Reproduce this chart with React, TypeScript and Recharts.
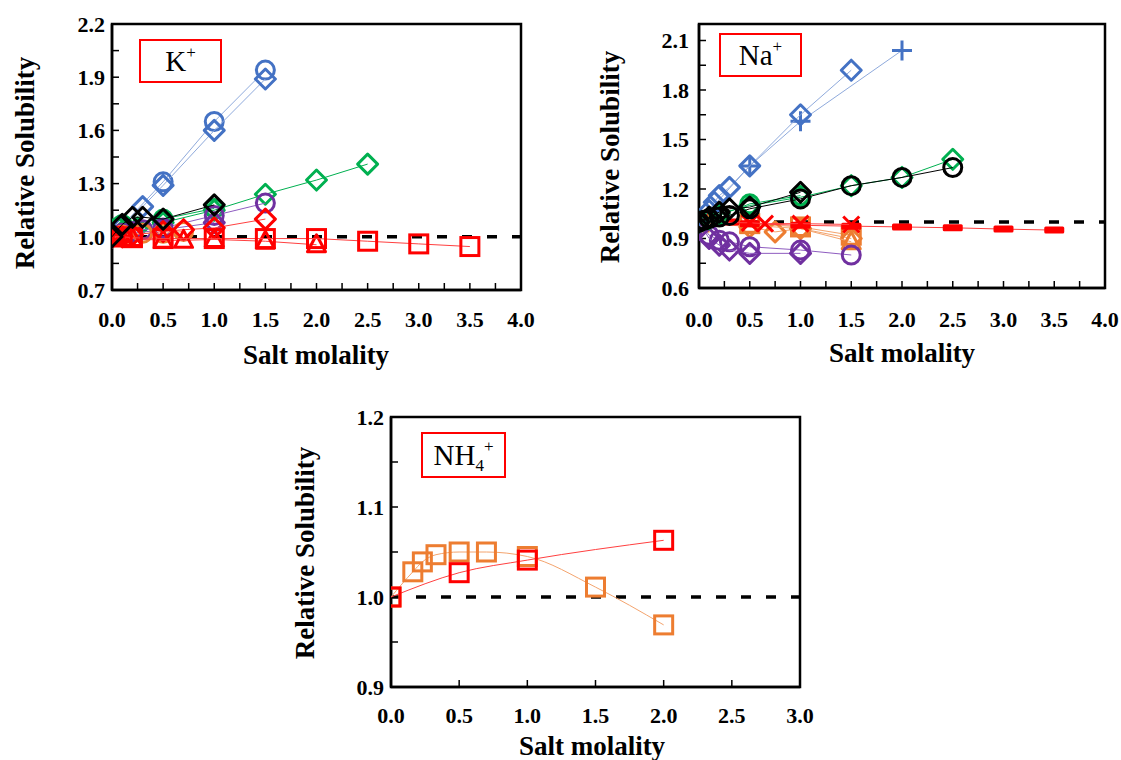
import React from 'react';
import { ScatterChart, Scatter, XAxis, YAxis, ReferenceLine, ReferenceArea } from 'recharts';

const FONT = '"Liberation Serif", "Times New Roman", serif';

// ---------- K+ panel data ----------
const kBlueCircleX = [0, 0.5, 1.0, 1.5];
const kBlueCircleY = [1.0, 1.31, 1.65, 1.94];
const kBlueDiamondX = [0, 0.1, 0.3, 0.5, 1.0, 1.5];
const kBlueDiamondY = [1.0, 1.06, 1.17, 1.29, 1.6, 1.89];
const kGreenCircleX = [0, 0.05, 0.1, 0.5, 1.0];
const kGreenCircleY = [1.0, 1.05, 1.07, 1.1, 1.16];
const kGreenDiamondX = [0, 0.1, 0.25, 0.5, 1.0, 1.5, 2.0, 2.5];
const kGreenDiamondY = [1.0, 1.03, 1.05, 1.08, 1.15, 1.24, 1.32, 1.41];
const kPurpleCircleX = [0, 0.1, 0.2, 0.3, 0.5, 1.0, 1.5];
const kPurpleCircleY = [1.0, 1.02, 1.03, 1.04, 1.05, 1.12, 1.19];
const kPurpleDiamondX = [0, 0.1, 0.2, 0.5, 1.0];
const kPurpleDiamondY = [1.0, 1.01, 1.02, 1.04, 1.08];
const kOrangeCircleX = [0, 0.1, 0.3, 0.5, 0.7];
const kOrangeCircleY = [1.0, 1.01, 1.02, 1.02, 1.03];
const kRedDiamondX = [0, 0.1, 0.2, 0.5, 0.7, 1.0, 1.5];
const kRedDiamondY = [1.0, 1.0, 1.01, 1.03, 1.04, 1.05, 1.1];
const kRedTriangleX = [0, 0.1, 0.2, 0.5, 0.7, 1.0, 1.5, 2.0];
const kRedTriangleY = [1.0, 0.99, 0.99, 0.98, 0.98, 0.985, 0.975, 0.955];
const kRedSquareX = [0, 0.1, 0.2, 0.5, 1.0, 1.5, 2.0, 2.5, 3.0, 3.5];
const kRedSquareY = [1.0, 1.0, 0.995, 0.99, 0.99, 0.99, 0.99, 0.975, 0.96, 0.945];
const kBlackDiamondX = [0, 0.1, 0.2, 0.3, 0.5, 1.0];
const kBlackDiamondY = [1.0, 1.07, 1.11, 1.11, 1.1, 1.18];

// ---------- Na+ panel data ----------
const naOrangeSquareX = [0, 0.5, 1.0, 1.5];
const naOrangeSquareY = [1.0, 0.99, 0.97, 0.92];
const naOrangeDiamondX = [0, 0.5, 0.75, 1.0, 1.5];
const naOrangeDiamondY = [1.0, 0.97, 0.94, 0.96, 0.9];
const naOrangeTriangleX = [0, 0.5, 1.0, 1.5];
const naOrangeTriangleY = [1.0, 0.98, 0.96, 0.88];
const naRedDashX = [0, 0.3, 0.5, 1.0, 1.5, 2.0, 2.5, 3.0, 3.5];
const naRedDashY = [1.0, 1.0, 0.99, 0.98, 0.975, 0.97, 0.965, 0.957, 0.951];
const naRedCrossX = [0, 0.5, 0.65, 1.0, 1.5];
const naRedCrossY = [1.0, 0.995, 0.99, 0.99, 0.985];
const naPurpleCircleX = [0, 0.1, 0.2, 0.3, 0.5, 1.0, 1.5];
const naPurpleCircleY = [1.0, 0.92, 0.89, 0.88, 0.85, 0.83, 0.8];
const naPurpleDiamondX = [0, 0.1, 0.2, 0.3, 0.5, 1.0];
const naPurpleDiamondY = [1.0, 0.9, 0.86, 0.83, 0.81, 0.81];
const naBluePlusX = [0, 0.5, 1.0, 2.0];
const naBluePlusY = [1.0, 1.34, 1.61, 2.04];
const naBlueDiamondX = [0, 0.1, 0.15, 0.2, 0.3, 0.5, 1.0, 1.5];
const naBlueDiamondY = [1.0, 1.07, 1.12, 1.16, 1.21, 1.34, 1.65, 1.92];
const naGreenCircleX = [0, 0.2, 0.5, 1.0];
const naGreenCircleY = [1.0, 1.04, 1.11, 1.16];
const naGreenDiamondX = [0, 0.1, 0.2, 0.5, 1.0, 1.5, 2.0, 2.5];
const naGreenDiamondY = [1.0, 1.02, 1.05, 1.1, 1.15, 1.22, 1.27, 1.38];
const naBlackCircleX = [0, 0.05, 0.1, 0.2, 0.3, 0.5, 1.0, 1.5, 2.0, 2.5];
const naBlackCircleY = [1.0, 1.01, 1.02, 1.03, 1.04, 1.08, 1.14, 1.22, 1.27, 1.33];
const naBlackDiamondX = [0, 0.1, 0.2, 0.3, 0.5, 1.0];
const naBlackDiamondY = [1.0, 1.03, 1.06, 1.08, 1.09, 1.18];

// ---------- NH4+ panel data ----------
const nhOrangeSquareX = [0, 0.16, 0.23, 0.33, 0.5, 0.7, 1.0, 1.5, 2.0];
const nhOrangeSquareY = [1.0, 1.028, 1.039, 1.047, 1.05, 1.05, 1.045, 1.011, 0.969];
const nhRedSquareX = [0, 0.5, 1.0, 2.0];
const nhRedSquareY = [1.0, 1.027, 1.041, 1.063];

// ---------- ticks ----------
const kXTicks = [0, 0.25, 0.5, 0.75, 1.0, 1.25, 1.5, 1.75, 2.0, 2.25, 2.5, 2.75, 3.0, 3.25, 3.5, 3.75, 4.0];
const kXLabels = [0, 0.5, 1.0, 1.5, 2.0, 2.5, 3.0, 3.5, 4.0];
const kYTicks = [0.7, 0.85, 1.0, 1.15, 1.3, 1.45, 1.6, 1.75, 1.9, 2.05, 2.2];
const kYLabels = [0.7, 1.0, 1.3, 1.6, 1.9, 2.2];
const naYTicks = [0.6, 0.75, 0.9, 1.05, 1.2, 1.35, 1.5, 1.65, 1.8, 1.95, 2.1];
const naYLabels = [0.6, 0.9, 1.2, 1.5, 1.8, 2.1];
const nhXTicks = [0, 0.5, 1.0, 1.5, 2.0, 2.5, 3.0];
const nhXLabels = [0, 0.5, 1.0, 1.5, 2.0, 2.5, 3.0];
const nhYTicks = [0.9, 0.95, 1.0, 1.05, 1.1, 1.15, 1.2];
const nhYLabels = [0.9, 1.0, 1.1, 1.2];

const xTitle = 'Salt molality';
const yTitle = 'Relative Solubility';

const COL = {
  blue: '#4472C4', green: '#00B050', black: '#000000', purple: '#7030A0', red: '#FF0000', orange: '#ED7D31',
};
const LINE = {
  blue: '#8FAADC', green: '#00B050', black: '#000000', purple: '#8E5CC0', red: '#FF4040', orange: '#F4A46E',
};

type Kind = 'circle' | 'diamond' | 'square' | 'triangle' | 'plus' | 'cross' | 'dash';
type Ser = { xs: number[]; ys: number[]; kind: Kind; c: keyof typeof COL; smooth?: boolean };

const zip = (xs: number[], ys: number[]) => xs.map((x, i) => ({ x, y: ys[i] }));

function Marker(props: any) {
  const { cx, cy, kind, color } = props;
  if (cx == null || cy == null || isNaN(cx) || isNaN(cy)) return null;
  const sw = 3;
  switch (kind as Kind) {
    case 'circle':
      return <circle cx={cx} cy={cy} r={9} fill="none" stroke={color} strokeWidth={sw} />;
    case 'diamond':
      return (
        <polygon
          points={`${cx},${cy - 10} ${cx + 10},${cy} ${cx},${cy + 10} ${cx - 10},${cy}`}
          fill="none" stroke={color} strokeWidth={sw} strokeLinejoin="round"
        />
      );
    case 'square':
      return <rect x={cx - 9} y={cy - 9} width={18} height={18} fill="none" stroke={color} strokeWidth={sw} />;
    case 'triangle':
      return (
        <polygon
          points={`${cx},${cy - 10} ${cx + 9},${cy + 7} ${cx - 9},${cy + 7}`}
          fill="none" stroke={color} strokeWidth={sw} strokeLinejoin="round"
        />
      );
    case 'plus':
      return <path d={`M${cx - 10},${cy}H${cx + 10}M${cx},${cy - 10}V${cy + 10}`} stroke={color} strokeWidth={sw} fill="none" />;
    case 'cross':
      return <path d={`M${cx - 8},${cy - 8}L${cx + 8},${cy + 8}M${cx - 8},${cy + 8}L${cx + 8},${cy - 8}`} stroke={color} strokeWidth={sw} fill="none" />;
    case 'dash':
      return <rect x={cx - 10} y={cy - 3.5} width={20} height={7} rx={1.5} fill={color} />;
  }
  return null;
}

type PanelProps = {
  left: number; top: number; width: number; height: number;
  margin: { top: number; right: number; bottom: number; left: number };
  xAxisHeight: number;
  xDomain: [number, number]; yDomain: [number, number];
  xTicks: number[]; xLabels: number[]; yTicks: number[]; yLabels: number[];
  xTickMargin: number; yTickMargin: number;
  xTitlePos: [number, number]; yTitlePos: [number, number];
  series: Ser[];
};

const tickStyle = { fill: '#000', fontSize: 22, fontWeight: 'bold' as const, fontFamily: FONT };
const titleStyle = { fill: '#000', fontSize: 27, fontWeight: 'bold' as const, fontFamily: FONT };

function Panel(p: PanelProps) {
  const inList = (list: number[]) => (v: number) =>
    list.some((t) => Math.abs(t - v) < 1e-9) ? v.toFixed(1) : '';
  return (
    <div style={{ position: 'absolute', left: p.left, top: p.top, width: p.width, height: p.height }}>
      <ScatterChart width={p.width} height={p.height} margin={p.margin}>
        <XAxis
          type="number" dataKey="x" domain={p.xDomain} ticks={p.xTicks} interval={0}
          allowDataOverflow height={p.xAxisHeight}
          tickFormatter={inList(p.xLabels)} tick={tickStyle}
          tickSize={-7} tickMargin={p.xTickMargin}
          axisLine={{ stroke: '#000', strokeWidth: 2.5 }} tickLine={{ stroke: '#000', strokeWidth: 1.5 }}
          label={() => (
            <text x={p.xTitlePos[0]} y={p.xTitlePos[1]} textAnchor="middle" dominantBaseline="central" style={titleStyle}>
              {xTitle}
            </text>
          )}
        />
        <YAxis
          type="number" dataKey="y" domain={p.yDomain} ticks={p.yTicks} interval={0}
          allowDataOverflow width={60}
          tickFormatter={inList(p.yLabels)} tick={tickStyle}
          tickSize={-7} tickMargin={p.yTickMargin}
          axisLine={{ stroke: '#000', strokeWidth: 2.5 }} tickLine={{ stroke: '#000', strokeWidth: 1.5 }}
          label={() => (
            <text
              x={p.yTitlePos[0]} y={p.yTitlePos[1]} textAnchor="middle" dominantBaseline="central"
              transform={`rotate(-90 ${p.yTitlePos[0]} ${p.yTitlePos[1]})`} style={titleStyle}
            >
              {yTitle}
            </text>
          )}
        />
        {p.series.map((s, i) => (
          <Scatter
            key={i}
            data={zip(s.xs, s.ys)}
            isAnimationActive={false}
            line={{ stroke: LINE[s.c], strokeWidth: 1 }}
            lineType="joint"
            lineJointType={s.smooth ? 'monotoneX' : 'linear'}
            shape={(sp: any) => <Marker cx={sp.cx} cy={sp.cy} kind={s.kind} color={COL[s.c]} />}
          />
        ))}
        <ReferenceLine y={1} stroke="#000" strokeWidth={3.5} strokeDasharray="10 15" />
        <ReferenceArea
          x1={p.xDomain[0]} x2={p.xDomain[1]} y1={p.yDomain[0]} y2={p.yDomain[1]}
          fill="none" fillOpacity={0} stroke="#000" strokeWidth={2.5}
        />
      </ScatterChart>
    </div>
  );
}

const kSeries: Ser[] = [
  { xs: kBlueCircleX, ys: kBlueCircleY, kind: 'circle', c: 'blue' },
  { xs: kBlueDiamondX, ys: kBlueDiamondY, kind: 'diamond', c: 'blue' },
  { xs: kGreenCircleX, ys: kGreenCircleY, kind: 'circle', c: 'green' },
  { xs: kGreenDiamondX, ys: kGreenDiamondY, kind: 'diamond', c: 'green' },
  { xs: kPurpleCircleX, ys: kPurpleCircleY, kind: 'circle', c: 'purple' },
  { xs: kPurpleDiamondX, ys: kPurpleDiamondY, kind: 'diamond', c: 'purple' },
  { xs: kOrangeCircleX, ys: kOrangeCircleY, kind: 'circle', c: 'orange' },
  { xs: kRedDiamondX, ys: kRedDiamondY, kind: 'diamond', c: 'red' },
  { xs: kRedTriangleX, ys: kRedTriangleY, kind: 'triangle', c: 'red' },
  { xs: kRedSquareX, ys: kRedSquareY, kind: 'square', c: 'red' },
  { xs: kBlackDiamondX, ys: kBlackDiamondY, kind: 'diamond', c: 'black' },
];

const naSeries: Ser[] = [
  { xs: naOrangeSquareX, ys: naOrangeSquareY, kind: 'square', c: 'orange' },
  { xs: naOrangeDiamondX, ys: naOrangeDiamondY, kind: 'diamond', c: 'orange' },
  { xs: naOrangeTriangleX, ys: naOrangeTriangleY, kind: 'triangle', c: 'orange' },
  { xs: naRedDashX, ys: naRedDashY, kind: 'dash', c: 'red' },
  { xs: naRedCrossX, ys: naRedCrossY, kind: 'cross', c: 'red' },
  { xs: naPurpleCircleX, ys: naPurpleCircleY, kind: 'circle', c: 'purple' },
  { xs: naPurpleDiamondX, ys: naPurpleDiamondY, kind: 'diamond', c: 'purple' },
  { xs: naBluePlusX, ys: naBluePlusY, kind: 'plus', c: 'blue' },
  { xs: naBlueDiamondX, ys: naBlueDiamondY, kind: 'diamond', c: 'blue' },
  { xs: naGreenCircleX, ys: naGreenCircleY, kind: 'circle', c: 'green' },
  { xs: naGreenDiamondX, ys: naGreenDiamondY, kind: 'diamond', c: 'green' },
  { xs: naBlackCircleX, ys: naBlackCircleY, kind: 'circle', c: 'black' },
  { xs: naBlackDiamondX, ys: naBlackDiamondY, kind: 'diamond', c: 'black' },
];

const nhSeries: Ser[] = [
  { xs: nhOrangeSquareX, ys: nhOrangeSquareY, kind: 'square', c: 'orange', smooth: true },
  { xs: nhRedSquareX, ys: nhRedSquareY, kind: 'square', c: 'red', smooth: true },
];

function IonBox({ left, top, width, height, children }: any) {
  return (
    <div
      style={{
        position: 'absolute', left, top, width, height, boxSizing: 'border-box',
        border: '2px solid #FF0000', background: '#fff', display: 'flex', alignItems: 'center',
        justifyContent: 'center', fontFamily: FONT, fontSize: 29, color: '#000', lineHeight: 1,
      }}
    >
      <span>{children}</span>
    </div>
  );
}

const supStyle: React.CSSProperties = { fontSize: 17, verticalAlign: 'top', position: 'relative', top: -3 };
const subStyle: React.CSSProperties = { fontSize: 17, verticalAlign: 'bottom', position: 'relative', top: 4 };

export default function App() {
  return (
    <div style={{ position: 'absolute', left: 0, top: 0, width: 1121, height: 760, background: '#fff', overflow: 'hidden' }}>
      <Panel
        left={0} top={0} width={540} height={380}
        margin={{ top: 24, right: 19, bottom: 10, left: 52 }} xAxisHeight={80}
        xDomain={[0, 4]} yDomain={[0.7, 2.2]}
        xTicks={kXTicks} xLabels={kXLabels} yTicks={kYTicks} yLabels={kYLabels}
        xTickMargin={28} yTickMargin={14}
        xTitlePos={[316, 355]} yTitlePos={[25, 163]}
        series={kSeries}
      />
      <Panel
        left={580} top={0} width={541} height={380}
        margin={{ top: 24, right: 16, bottom: 12, left: 59 }} xAxisHeight={80}
        xDomain={[0, 4]} yDomain={[0.6, 2.2]}
        xTicks={kXTicks} xLabels={kXLabels} yTicks={naYTicks} yLabels={naYLabels}
        xTickMargin={30} yTickMargin={17}
        xTitlePos={[322, 353]} yTitlePos={[30, 157]}
        series={naSeries}
      />
      <Panel
        left={270} top={390} width={560} height={370}
        margin={{ top: 27, right: 30, bottom: 13, left: 61 }} xAxisHeight={60}
        xDomain={[0, 3]} yDomain={[0.9, 1.2]}
        xTicks={nhXTicks} xLabels={nhXLabels} yTicks={nhYTicks} yLabels={nhYLabels}
        xTickMargin={27} yTickMargin={14}
        xTitlePos={[322, 356]} yTitlePos={[35, 163]}
        series={nhSeries}
      />
      <IonBox left={139} top={39} width={83} height={44}>K<span style={supStyle}>+</span></IonBox>
      <IonBox left={719} top={33} width={83} height={44}>Na<span style={supStyle}>+</span></IonBox>
      <IonBox left={421} top={432} width={85} height={46}>
        NH<span style={subStyle}>4</span><span style={supStyle}>+</span>
      </IonBox>
    </div>
  );
}
